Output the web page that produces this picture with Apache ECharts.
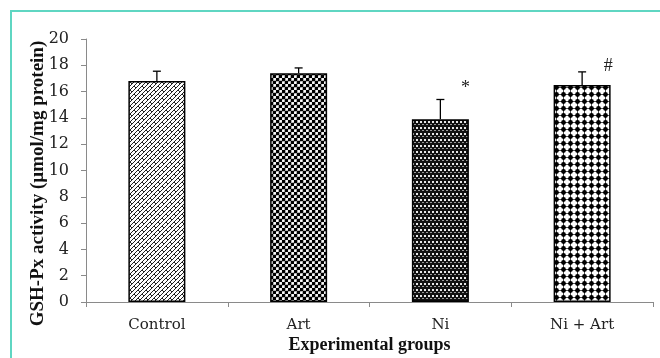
<!DOCTYPE html>
<html>
<head>
<meta charset="utf-8">
<script src="https://cdn.jsdelivr.net/npm/echarts@6/dist/echarts.min.js"></script>
<style>
  html, body { margin: 0; padding: 0; background: #fff; }
  .wrap { position: relative; width: 660px; height: 358px; }
  .frame {
    position: absolute; left: 10px; top: 10px; right: -4px; bottom: -4px;
    border-left: 2px solid #5fd6c2; border-top: 2px solid #5fd6c2;
  }
  #chart { position: absolute; left: 0; top: 0; width: 660px; height: 358px; }
</style>
</head>
<body>
<div class="wrap">
  <div class="frame"></div>
  <div id="chart"></div>
</div>
<script>
// 数据
const groups = ['Control', 'Art', 'Ni', 'Ni + Art']
const means = [16.8, 17.4, 13.9, 16.5]
const errors = [0.75, 0.4, 1.5, 1.0]
const marks = ['', '', '*', '#']
const yTicks = { min: 0, max: 20, interval: 2 }

// 填充图案
function makeTile(w, h, draw) {
  const c = document.createElement('canvas')
  c.width = w
  c.height = h
  const ctx = c.getContext('2d')
  draw(ctx)
  return { image: c, repeat: 'repeat' }
}

const patterns = [
  // Control: 斜向砖纹
  makeTile(8, 8, ctx => {
    ctx.fillStyle = '#fff'
    ctx.fillRect(0, 0, 8, 8)
    ctx.strokeStyle = '#222'
    ctx.lineWidth = 1
    ctx.beginPath()
    ctx.moveTo(0, 8); ctx.lineTo(8, 0)
    ctx.moveTo(-4, 8); ctx.lineTo(4, 0)
    ctx.moveTo(4, 8); ctx.lineTo(12, 0)
    ctx.moveTo(2, 2); ctx.lineTo(4, 4)
    ctx.moveTo(6, 6); ctx.lineTo(8, 8)
    ctx.stroke()
  }),
  // Art: 黑底白格圆点
  makeTile(6, 6, ctx => {
    ctx.fillStyle = '#e6e6e6'
    ctx.fillRect(0, 0, 6, 6)
    ctx.fillStyle = '#000'
    ctx.beginPath(); ctx.arc(1.5, 1.5, 2.1, 0, Math.PI * 2); ctx.fill()
    ctx.beginPath(); ctx.arc(4.5, 4.5, 2.1, 0, Math.PI * 2); ctx.fill()
    ctx.fillStyle = '#fff'
    ctx.fillRect(3.5, 0.5, 2, 2)
    ctx.fillRect(0.5, 3.5, 2, 2)
  }),
  // Ni: 深色横纹
  makeTile(4, 6, ctx => {
    ctx.fillStyle = '#111'
    ctx.fillRect(0, 0, 4, 6)
    ctx.fillStyle = '#e8e8e8'
    ctx.fillRect(0, 1, 2, 2)
    ctx.fillStyle = '#9a9a9a'
    ctx.fillRect(2, 4, 2, 1)
  }),
  // Ni + Art: 白底黑点
  makeTile(7, 7, ctx => {
    ctx.fillStyle = '#fff'
    ctx.fillRect(0, 0, 7, 7)
    ctx.fillStyle = '#000'
    ctx.beginPath(); ctx.arc(3.5, 3.5, 2.4, 0, Math.PI * 2); ctx.fill()
    ctx.fillRect(3, 0.3, 1, 6.4)
    ctx.fillRect(0.3, 3, 6.4, 1)
  })
]

const serif = '"DejaVu Serif", serif'
const boldSerif = '"Liberation Serif", "Times New Roman", serif'

const chart = echarts.init(document.getElementById('chart'))
chart.setOption({
  animation: false,
  grid: { left: 86, right: 7, top: 39, bottom: 56, outerBoundsMode: 'none' },
  xAxis: {
    type: 'category',
    data: groups,
    name: 'Experimental groups',
    nameLocation: 'middle',
    nameGap: 34,
    nameMoveOverlap: false,
    nameTextStyle: { fontFamily: boldSerif, fontWeight: 'bold', fontSize: 18, color: '#111' },
    axisLine: { lineStyle: { color: '#8a8a8a', width: 1 } },
    axisTick: { show: true, length: 5, lineStyle: { color: '#8a8a8a' } },
    axisLabel: { fontFamily: serif, fontSize: 15, color: '#222', margin: 16 }
  },
  yAxis: {
    type: 'value',
    min: yTicks.min,
    max: yTicks.max,
    interval: yTicks.interval,
    name: 'GSH-Px activity (µmol/mg protein)',
    nameLocation: 'middle',
    nameRotate: 90,
    nameGap: 38,
    nameMoveOverlap: false,
    nameTextStyle: {
      fontFamily: boldSerif,
      fontWeight: 'bold',
      fontSize: 19,
      color: '#111',
      padding: [0, 26, 0, 0]
    },
    axisLine: { show: true, lineStyle: { color: '#8a8a8a', width: 1 } },
    axisTick: { show: true, length: 5, lineStyle: { color: '#8a8a8a' } },
    axisLabel: { fontFamily: serif, fontSize: 16, color: '#222', margin: 17 },
    splitLine: { show: false }
  },
  series: [
    {
      type: 'bar',
      barWidth: 57,
      data: means.map((v, i) => ({
        value: v,
        itemStyle: { color: patterns[i], borderColor: '#000', borderWidth: 1.5 }
      }))
    },
    {
      // 误差线 + 显著性标记
      type: 'custom',
      z: 5,
      data: means.map((v, i) => [i, v, errors[i], marks[i]]),
      renderItem: (params, api) => {
        const i = api.value(0)
        const base = api.coord([i, api.value(1)])
        const top = api.coord([i, api.value(1) + api.value(2)])
        const mark = marks[i]
        const children = [
          {
            type: 'line',
            shape: { x1: base[0], y1: base[1], x2: top[0], y2: top[1] },
            style: { stroke: '#000', lineWidth: 1.3 }
          },
          {
            type: 'line',
            shape: { x1: top[0] - 4, y1: top[1], x2: top[0] + 4, y2: top[1] },
            style: { stroke: '#000', lineWidth: 1.3 }
          }
        ]
        if (mark) {
          children.push({
            type: 'text',
            x: top[0] + (mark === '*' ? 25 : 26),
            y: top[1] + (mark === '*' ? -2 : 3),
            style: {
              text: mark,
              fontFamily: boldSerif,
              fontSize: 18,
              fill: '#222',
              align: 'center',
              verticalAlign: 'bottom'
            }
          })
        }
        return { type: 'group', children }
      }
    }
  ]
})
</script>
</body>
</html>
